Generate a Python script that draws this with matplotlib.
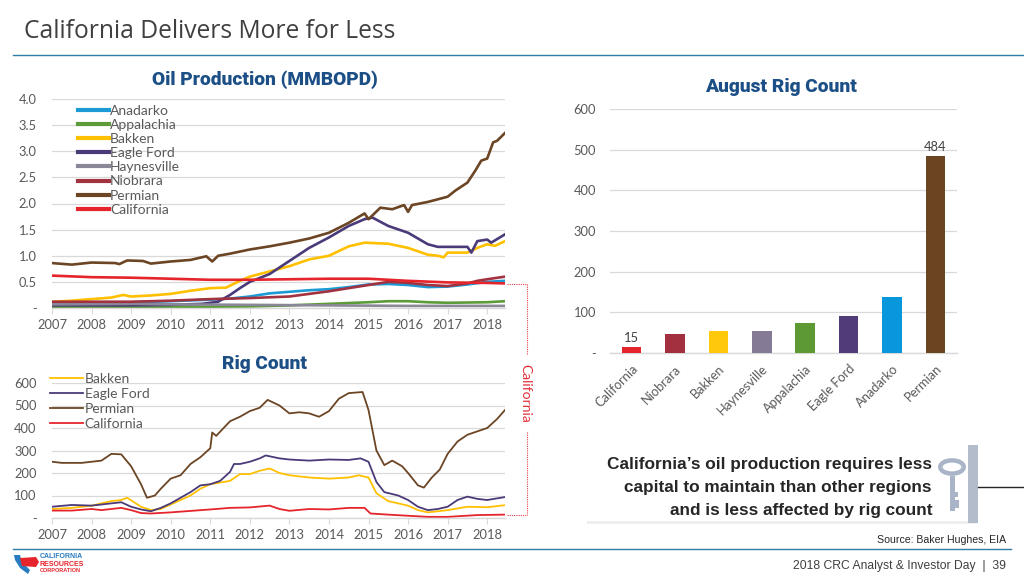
import matplotlib
matplotlib.use("Agg")
import matplotlib.pyplot as plt
from matplotlib.lines import Line2D
from matplotlib.patches import Rectangle, Circle, Polygon
import numpy as np

# ---------------- DATA ----------------
years = list(range(2007, 2019))
year_labels = [str(y) for y in years]

oil_yticks = [0, 0.5, 1.0, 1.5, 2.0, 2.5, 3.0, 3.5, 4.0]
oil_ylabels = ['-', '0.5', '1.0', '1.5', '2.0', '2.5', '3.0', '3.5', '4.0']
rig_yticks = [0, 100, 200, 300, 400, 500, 600]
rig_ylabels = ['-', '100', '200', '300', '400', '500', '600']

# Oil production (MMBOPD)
anadarko_x = [2007, 2008, 2009, 2010, 2011, 2011.5, 2012, 2012.5, 2013, 2013.5, 2014, 2014.5, 2015, 2015.5, 2016, 2016.5, 2017, 2017.5, 2018, 2018.45]
anadarko = [0.10, 0.11, 0.11, 0.13, 0.16, 0.18, 0.22, 0.28, 0.31, 0.34, 0.36, 0.40, 0.45, 0.46, 0.44, 0.40, 0.41, 0.45, 0.50, 0.52]

appalachia_x = [2007, 2010, 2012, 2013, 2014, 2015, 2015.5, 2016, 2016.5, 2017, 2018, 2018.45]
appalachia = [0.02, 0.02, 0.03, 0.05, 0.08, 0.11, 0.13, 0.13, 0.11, 0.10, 0.11, 0.13]

bakken_x = [2007, 2007.5, 2008, 2008.5, 2008.8, 2009, 2009.5, 2010, 2010.5, 2011, 2011.4, 2011.75, 2012, 2012.5, 2013, 2013.5, 2014, 2014.5, 2014.9, 2015.5, 2016, 2016.5, 2016.75, 2016.9, 2017, 2017.5, 2017.75, 2018, 2018.2, 2018.45]
bakken = [0.12, 0.14, 0.17, 0.20, 0.25, 0.22, 0.24, 0.27, 0.33, 0.38, 0.39, 0.52, 0.60, 0.70, 0.80, 0.93, 1.00, 1.18, 1.25, 1.23, 1.15, 1.02, 1.00, 0.97, 1.06, 1.06, 1.15, 1.22, 1.19, 1.28]

eagleford_x = [2007, 2008, 2009, 2010, 2010.8, 2011.2, 2011.5, 2011.75, 2012, 2012.5, 2013, 2013.5, 2014, 2014.5, 2014.9, 2015.1, 2015.5, 2016, 2016.5, 2016.75, 2017, 2017.5, 2017.6, 2017.75, 2018, 2018.1, 2018.45]
eagleford = [0.05, 0.05, 0.05, 0.06, 0.08, 0.12, 0.25, 0.38, 0.50, 0.65, 0.90, 1.15, 1.35, 1.57, 1.70, 1.73, 1.57, 1.44, 1.22, 1.17, 1.17, 1.17, 1.06, 1.28, 1.31, 1.25, 1.41]

haynesville_x = [2007, 2009, 2010, 2012, 2014, 2016, 2018.45]
haynesville = [0.07, 0.08, 0.07, 0.06, 0.05, 0.04, 0.04]

niobrara_x = [2007, 2008, 2009, 2010, 2011, 2012, 2013, 2014, 2015, 2015.5, 2016, 2016.5, 2017, 2017.5, 2017.75, 2018, 2018.45]
niobrara = [0.12, 0.12, 0.12, 0.14, 0.17, 0.19, 0.22, 0.32, 0.44, 0.50, 0.48, 0.44, 0.42, 0.47, 0.52, 0.55, 0.60]

permian_x = [2007, 2007.5, 2008, 2008.6, 2008.7, 2008.9, 2009.3, 2009.5, 2010, 2010.5, 2010.9, 2011.05, 2011.2, 2011.5, 2012, 2012.5, 2013, 2013.5, 2014, 2014.5, 2014.9, 2015.0, 2015.3, 2015.6, 2015.9, 2016.0, 2016.1, 2016.5, 2016.75, 2017, 2017.2, 2017.5, 2017.7, 2017.85, 2018.0, 2018.15, 2018.25, 2018.45]
permian = [0.86, 0.83, 0.87, 0.86, 0.84, 0.91, 0.90, 0.85, 0.89, 0.92, 0.99, 0.89, 1.00, 1.04, 1.12, 1.18, 1.25, 1.33, 1.44, 1.63, 1.81, 1.70, 1.92, 1.89, 1.97, 1.84, 1.97, 2.03, 2.08, 2.13, 2.25, 2.40, 2.63, 2.82, 2.86, 3.17, 3.20, 3.35]

california_x = [2007, 2008, 2009, 2010, 2011, 2012, 2013, 2014, 2015, 2016, 2017, 2018, 2018.45]
california = [0.62, 0.59, 0.58, 0.56, 0.54, 0.54, 0.55, 0.56, 0.56, 0.52, 0.49, 0.48, 0.47]

# Rig count
rig_permian_x = [2007, 2007.25, 2007.5, 2007.75, 2008, 2008.25, 2008.5, 2008.75, 2009, 2009.25, 2009.4, 2009.6, 2009.75, 2010, 2010.25, 2010.5, 2010.75, 2011, 2011.05, 2011.15, 2011.5, 2011.75, 2012, 2012.25, 2012.45, 2012.75, 2013, 2013.25, 2013.5, 2013.75, 2014, 2014.25, 2014.5, 2014.85, 2015, 2015.2, 2015.4, 2015.6, 2015.85, 2016, 2016.25, 2016.4, 2016.6, 2016.8, 2017, 2017.25, 2017.5, 2017.75, 2018, 2018.25, 2018.45]
rig_permian = [250, 245, 245, 245, 250, 255, 285, 283, 230, 150, 90, 100, 130, 175, 190, 240, 270, 310, 380, 365, 430, 450, 475, 490, 525, 500, 465, 470, 465, 450, 475, 530, 555, 560, 480, 300, 235, 255, 230, 200, 145, 135, 180, 215, 285, 340, 370, 385, 400, 440, 480]

rig_eagleford_x = [2007, 2007.5, 2008, 2008.5, 2008.75, 2009, 2009.25, 2009.5, 2009.75, 2010, 2010.25, 2010.5, 2010.75, 2011, 2011.25, 2011.5, 2011.6, 2011.75, 2012, 2012.25, 2012.4, 2012.75, 2013, 2013.5, 2014, 2014.5, 2014.8, 2015, 2015.2, 2015.4, 2015.75, 2016, 2016.25, 2016.5, 2016.75, 2017, 2017.25, 2017.5, 2017.75, 2018, 2018.45]
rig_eagleford = [50, 58, 55, 65, 70, 50, 38, 30, 45, 65, 90, 115, 145, 150, 165, 205, 240, 240, 250, 265, 278, 265, 260, 255, 260, 258, 265, 250, 160, 115, 100, 80, 50, 35, 40, 50, 80, 95, 85, 80, 93]

rig_bakken_x = [2007, 2007.5, 2008, 2008.5, 2008.75, 2008.9, 2009.25, 2009.5, 2009.75, 2010, 2010.5, 2010.75, 2011, 2011.5, 2011.75, 2012, 2012.25, 2012.5, 2012.75, 2013, 2013.5, 2014, 2014.5, 2014.75, 2015, 2015.2, 2015.5, 2016, 2016.25, 2016.5, 2016.75, 2017, 2017.5, 2018, 2018.45]
rig_bakken = [40, 45, 55, 75, 80, 90, 50, 35, 40, 60, 100, 130, 150, 165, 195, 195, 210, 220, 200, 190, 180, 175, 180, 190, 180, 110, 75, 55, 35, 25, 30, 35, 50, 48, 57]

rig_california_x = [2007, 2007.5, 2008, 2008.25, 2008.75, 2009, 2009.25, 2009.5, 2010, 2011, 2011.5, 2012, 2012.5, 2012.75, 2013, 2013.5, 2014, 2014.5, 2014.9, 2015.05, 2015.5, 2016, 2016.5, 2017, 2017.75, 2018.45]
rig_california = [33, 33, 40, 35, 45, 35, 22, 20, 25, 38, 45, 47, 55, 40, 32, 40, 38, 45, 45, 20, 15, 10, 5, 5, 13, 15]

# August rig count
bar_categories = ['California', 'Niobrara', 'Bakken', 'Haynesville', 'Appalachia', 'Eagle Ford', 'Anadarko', 'Permian']
bar_values = [15, 47, 55, 54, 73, 91, 137, 484]

# ---------------- STYLE ----------------
C_ANA = '#1B9AD6'
C_APP = '#5C9B38'
C_BAK = '#FFC000'
C_EF = '#4A3A7A'
C_HAY = '#8A8798'
C_NIO = '#A2323F'
C_PER = '#6B4524'
C_CAL = '#E5242B'
bar_colors = ['#E5242B', '#A3303F', '#FFC80A', '#857A95', '#5E9A34', '#513C79', '#0797DA', '#6B4422']

GRID = '#D9D9D9'
TXT = '#595959'
TITLE_BLUE = '#1C4F86'
W, H = 1024, 576
TFS = 9.3   # tick font size

def fx(px):
    return px / W

def fy(py):
    return 1 - py / H

fig = plt.figure(figsize=(10.24, 5.76), dpi=100)
fig.patch.set_facecolor('white')

TICKFONT = 'Lato'

def style_axes(ax, yt, yl, pad):
    for s in ['top', 'right', 'left']:
        ax.spines[s].set_visible(False)
    ax.spines['bottom'].set_color(GRID)
    ax.spines['bottom'].set_linewidth(1.0)
    ax.set_yticks(yt)
    ax.set_yticklabels(yl, fontsize=TFS, color=TXT, family=TICKFONT)
    ax.tick_params(axis='y', length=0, pad=pad)
    ax.grid(axis='y', color=GRID, linewidth=0.9)
    ax.set_axisbelow(True)

# ---------------- OIL PRODUCTION ----------------
ax1 = fig.add_axes([fx(52), fy(308), fx(505 - 52), (308 - 99) / H])
oil_series = [
    ('Anadarko', anadarko_x, anadarko, C_ANA),
    ('Appalachia', appalachia_x, appalachia, C_APP),
    ('Bakken', bakken_x, bakken, C_BAK),
    ('Eagle Ford', eagleford_x, eagleford, C_EF),
    ('Haynesville', haynesville_x, haynesville, C_HAY),
    ('Niobrara', niobrara_x, niobrara, C_NIO),
    ('Permian', permian_x, permian, C_PER),
    ('California', california_x, california, C_CAL),
]
for name, xs, ys, c in oil_series:
    ax1.plot(xs, ys, color=c, lw=1.9, label=name, solid_joinstyle='round')
ax1.set_xlim(2007, 2018.45)
ax1.set_ylim(0, 4.0)
style_axes(ax1, oil_yticks, oil_ylabels, 11)
ax1.set_xticks(years)
ax1.set_xticklabels(year_labels, fontsize=TFS, color=TXT, family=TICKFONT)
ax1.tick_params(axis='x', length=4, color=GRID, pad=4)
leg1 = ax1.legend(loc='upper left', bbox_to_anchor=(fx(78), fy(105)), bbox_transform=fig.transFigure,
                  frameon=False, fontsize=10, handlelength=2.2, handletextpad=0.1,
                  labelspacing=0.15, borderpad=0, borderaxespad=0)
for t in leg1.get_texts():
    t.set_color(TXT)
    t.set_family(TICKFONT)
for l in leg1.get_lines():
    l.set_linewidth(3)
fig.text(fx(265), fy(80), 'Oil Production (MMBOPD)', ha='center', va='center', fontsize=13.8,
         fontweight='black', family='Roboto', color=TITLE_BLUE)

# ---------------- RIG COUNT ----------------
ax2 = fig.add_axes([fx(52), fy(518), fx(505 - 52), (518 - 383) / H])
rig_series = [
    ('Bakken', rig_bakken_x, rig_bakken, C_BAK),
    ('Eagle Ford', rig_eagleford_x, rig_eagleford, C_EF),
    ('Permian', rig_permian_x, rig_permian, C_PER),
    ('California', rig_california_x, rig_california, C_CAL),
]
for name, xs, ys, c in rig_series:
    ax2.plot(xs, ys, color=c, lw=1.3, label=name)
ax2.set_xlim(2007, 2018.45)
ax2.set_ylim(0, 600)
style_axes(ax2, rig_yticks, rig_ylabels, 11)
ax2.set_xticks(years)
ax2.set_xticklabels(year_labels, fontsize=TFS, color=TXT, family=TICKFONT)
ax2.tick_params(axis='x', length=4, color=GRID, pad=4)
leg2 = ax2.legend(loc='upper left', bbox_to_anchor=(fx(50), fy(373)), bbox_transform=fig.transFigure,
                  frameon=False, fontsize=10, handlelength=2.4, handletextpad=0.1,
                  labelspacing=0.22, borderpad=0, borderaxespad=0)
for t in leg2.get_texts():
    t.set_color(TXT)
    t.set_family(TICKFONT)
fig.text(fx(265), fy(364), 'Rig Count', ha='center', va='center', fontsize=13.8,
         fontweight='black', family='Roboto', color=TITLE_BLUE)

# ---------------- AUGUST RIG COUNT ----------------
ax3 = fig.add_axes([fx(610), fy(353), fx(957 - 610), (353 - 109) / H])
xpos = np.arange(len(bar_categories))
ax3.bar(xpos, bar_values, width=0.45, color=bar_colors, zorder=3)
ax3.set_xlim(-0.5, len(bar_categories) - 0.5)
ax3.set_ylim(0, 600)
style_axes(ax3, rig_yticks, rig_ylabels, 10)
ax3.set_xticks(xpos)
ax3.set_xticklabels(bar_categories, rotation=45, ha='right', rotation_mode='anchor',
                    fontsize=TFS, color=TXT, family=TICKFONT)
ax3.tick_params(axis='x', length=0, pad=7)
for i in (0, len(bar_values) - 1):
    ax3.text(xpos[i], bar_values[i] + 8, str(bar_values[i]), ha='center', va='bottom',
             fontsize=TFS, color='#404040', family=TICKFONT)
fig.text(fx(781), fy(87), 'August Rig Count', ha='center', va='center', fontsize=13.8,
         fontweight='black', family='Roboto', color=TITLE_BLUE)

# ---------------- CALIFORNIA BRACKET ----------------
dot = dict(color='#E5404A', lw=0.8, linestyle=(0, (1, 1)), transform=fig.transFigure)
y_top = 1 - (308 - california[-1] * 52) / H
y_bot = 1 - (518 - rig_california[-1] * 0.225) / H
fig.add_artist(Line2D([fx(507), fx(527)], [y_top, y_top], **dot))
fig.add_artist(Line2D([fx(527), fx(527)], [y_top, fy(355)], **dot))
fig.add_artist(Line2D([fx(527), fx(527)], [fy(432), y_bot], **dot))
fig.add_artist(Line2D([fx(507), fx(527)], [y_bot, y_bot], **dot))
fig.text(fx(525), fy(393), 'California', rotation=-90, ha='center', va='center', fontsize=10,
         color='#E0303A', family='Lato')

# ---------------- HEADER ----------------
fig.text(fx(24), fy(31), 'California Delivers More for Less', ha='left', va='center', fontsize=17.7,
         color='#404040', family='Open Sans')
fig.add_artist(Line2D([fx(13), 1.0], [fy(55), fy(55)], color='#2F7FA6', lw=1.0, transform=fig.transFigure))

# ---------------- KEY MESSAGE BOX ----------------
fig.add_artist(Rectangle((fx(587), fy(524)), fx(390), (524 - 449) / H, transform=fig.transFigure,
                         facecolor='#EFEFEF', edgecolor='none', zorder=1))
fig.add_artist(Rectangle((fx(585), fy(521)), fx(390), (521 - 447) / H, transform=fig.transFigure,
                         facecolor='white', edgecolor='none', zorder=2))
fig.add_artist(Rectangle((fx(968), fy(523)), fx(10), (523 - 445) / H, transform=fig.transFigure,
                         facecolor='#B3BCCB', edgecolor='none', zorder=3))
fig.add_artist(Line2D([fx(978), 1.0], [fy(487), fy(487)], color='#262626', lw=1.0,
                      transform=fig.transFigure, zorder=3))
# key icon
kc = '#A9B4C8'
fig.add_artist(Circle((fx(952), fy(467)), 0.0115, transform=fig.transFigure, facecolor='none',
                      edgecolor=kc, lw=3.2, zorder=3))
fig.add_artist(Rectangle((fx(949.5), fy(511)), fx(5), (511 - 476) / H, transform=fig.transFigure,
                         facecolor=kc, edgecolor='none', zorder=3))
fig.add_artist(Rectangle((fx(954), fy(497)), fx(4), (497 - 492) / H, transform=fig.transFigure,
                         facecolor=kc, edgecolor='none', zorder=3))
fig.add_artist(Rectangle((fx(954), fy(508)), fx(5), (508 - 500) / H, transform=fig.transFigure,
                         facecolor=kc, edgecolor='none', zorder=3))
msg = ["California\u2019s oil production requires less",
       "capital to maintain than other regions",
       "and is less affected by rig count"]
for i, line in enumerate(msg):
    fig.text(fx(932), fy(465 + i * 22.5), line, ha='right', va='center', fontsize=12.4,
             fontweight='bold', color='#262626', family='Liberation Sans', zorder=4)

# ---------------- FOOTER ----------------
fig.text(fx(1006), fy(540), 'Source: Baker Hughes, EIA', ha='right', va='center', fontsize=7.6,
         color='#262626', family='Liberation Sans')
fig.add_artist(Line2D([fx(13), fx(1011)], [fy(549), fy(549)], color='#2F7FA6', lw=1.0,
                      transform=fig.transFigure))
fig.text(fx(1006), fy(566), '2018 CRC Analyst & Investor Day  |  39', ha='right', va='center',
         fontsize=8.7, color='#404040', family='Liberation Sans')
# logo (approximation)
fig.add_artist(Polygon([[fx(14), fy(555)], [fx(20), fy(555)], [fx(22), fy(562)], [fx(30), fy(570)],
                        [fx(28), fy(574)], [fx(20), fy(568)], [fx(15), fy(560)]],
                       closed=True, transform=fig.transFigure, facecolor='#2A7CC0', edgecolor='none'))
fig.add_artist(Polygon([[fx(20), fy(558)], [fx(36), fy(557)], [fx(39), fy(562)], [fx(36), fy(567)],
                        [fx(22), fy(566)]],
                       closed=True, transform=fig.transFigure, facecolor='#E5242B', edgecolor='none'))
fig.text(fx(40), fy(557), 'CALIFORNIA', fontsize=5, color='#2A7CC0', fontweight='bold',
         family='Liberation Sans', va='center', ha='left')
fig.text(fx(40), fy(564), 'RESOURCES', fontsize=5, color='#E5242B', fontweight='bold',
         family='Liberation Sans', va='center', ha='left')
fig.text(fx(40), fy(570), 'CORPORATION', fontsize=4, color='#E5242B', fontweight='bold',
         family='Liberation Sans', va='center', ha='left')

fig.savefig('out.png', dpi=100, facecolor='white')
